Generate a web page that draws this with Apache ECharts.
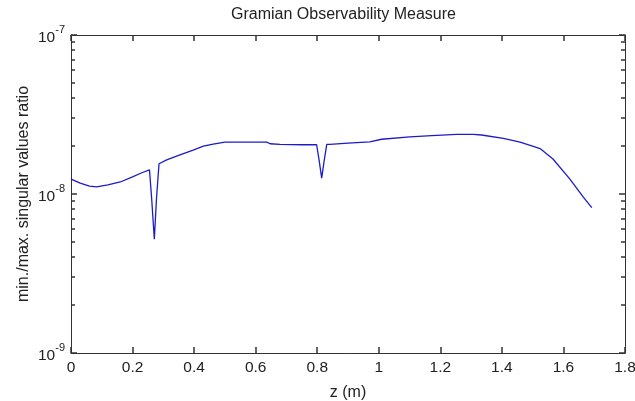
<!DOCTYPE html>
<html>
<head>
<meta charset="utf-8">
<script src="https://cdn.jsdelivr.net/npm/echarts@6/dist/echarts.min.js"></script>
<style>
  html, body { margin: 0; padding: 0; background: #fff; }
  #chart { width: 635px; height: 401px; }
</style>
</head>
<body>
<div id="chart"></div>
<script>
// Position along z (m)
const zValues = [
  0, 0.03, 0.06, 0.083, 0.12, 0.16, 0.2, 0.23, 0.255,
  0.262, 0.2707, 0.278, 0.286,
  0.311, 0.354, 0.397, 0.43, 0.462, 0.5, 0.55, 0.636, 0.647, 0.679, 0.75, 0.798,
  0.806, 0.8145, 0.823, 0.831,
  0.841, 0.9, 0.971, 1.009, 1.101, 1.172, 1.253, 1.307, 1.334, 1.405, 1.459,
  1.497, 1.524, 1.566, 1.621, 1.664, 1.692
];
// min./max. singular values ratio of the observability Gramian
const ratioValues = [
  1.24e-8, 1.17e-8, 1.12e-8, 1.11e-8, 1.14e-8, 1.19e-8, 1.28e-8, 1.36e-8, 1.42e-8,
  9.4e-9, 5.2e-9, 9.5e-9, 1.55e-8,
  1.64e-8, 1.76e-8, 1.89e-8, 2.0e-8, 2.06e-8, 2.12e-8, 2.12e-8, 2.12e-8, 2.07e-8, 2.05e-8, 2.04e-8, 2.04e-8,
  1.64e-8, 1.26e-8, 1.64e-8, 2.05e-8,
  2.05e-8, 2.09e-8, 2.13e-8, 2.21e-8, 2.29e-8, 2.33e-8, 2.37e-8, 2.37e-8, 2.35e-8, 2.24e-8, 2.12e-8,
  2.01e-8, 1.93e-8, 1.66e-8, 1.24e-8, 9.6e-9, 8.2e-9
];
// Axis ranges and decade labels
const xMin = 0, xMax = 1.8, xStep = 0.2;
const decades = [-9, -8, -7];
const minorMultipliers = [2, 3, 4, 5, 6, 7, 8, 9];

const axisColor = '#333';
const textColor = '#222';
const fontFamily = 'Liberation Sans, Arial, sans-serif';
const tickWidth = 1.5;

const chart = echarts.init(document.getElementById('chart'), null, { renderer: 'canvas' });

const series = [{
  type: 'line',
  data: zValues.map((z, i) => [z, ratioValues[i]]),
  showSymbol: false,
  symbol: 'none',
  lineStyle: { color: '#1c1cc8', width: 1.3 },
  animation: false
}];

// "10" with the exponent raised as a superscript
function expLabel(v) {
  return '{b|10}{s|' + Math.round(Math.log10(v)) + '}';
}

const frameAxis = {
  axisLine: { show: true, onZero: false, lineStyle: { color: axisColor, width: 1 } },
  axisTick: { show: true, inside: true, length: 6, lineStyle: { color: axisColor, width: tickWidth } },
  splitLine: { show: false }
};

const option = {
  animation: false,
  title: {
    text: 'Gramian Observability Measure',
    left: 231, top: 7, padding: 0,
    textStyle: { fontSize: 16, fontWeight: 'normal', color: textColor, fontFamily }
  },
  grid: { left: 71, right: 10, top: 35, bottom: 48, outerBoundsMode: 'none', containLabel: false },
  xAxis: [Object.assign({
    type: 'value', min: xMin, max: xMax, interval: xStep, position: 'bottom',
    name: 'z (m)', nameLocation: 'middle', nameGap: 32,
    nameTextStyle: { fontSize: 16, color: textColor, fontFamily },
    axisLabel: { margin: 7, fontSize: 15.5, color: textColor, fontFamily,
      formatter: v => String(Math.round(v * 10) / 10) }
  }, frameAxis), Object.assign({
    type: 'value', min: xMin, max: xMax, interval: xStep, position: 'top',
    axisLabel: { show: false }
  }, frameAxis)],
  yAxis: [Object.assign({
    type: 'log', logBase: 10, min: 1e-9, max: 1e-7, position: 'left',
    name: 'min./max. singular values ratio', nameLocation: 'middle', nameGap: 39,
    nameMoveOverlap: false,
    nameTextStyle: { fontSize: 16, color: textColor, fontFamily },
    axisLabel: {
      margin: 6, formatter: expLabel,
      rich: {
        b: { fontSize: 15.5, color: textColor, fontFamily, lineHeight: 22, verticalAlign: 'bottom', padding: [8, 0, 0, 0] },
        s: { fontSize: 11, color: textColor, fontFamily, lineHeight: 22, verticalAlign: 'top', padding: [0, 0, 10, 0] }
      }
    }
  }, frameAxis), Object.assign({
    type: 'log', logBase: 10, min: 1e-9, max: 1e-7, position: 'right',
    axisLabel: { show: false }
  }, frameAxis)],
  series
};

chart.setOption(option);

// Logarithmic minor ticks (2..9 within each decade) on both vertical edges
function drawMinorTicks() {
  const elements = [];
  const leftX = Math.round(chart.convertToPixel({ xAxisIndex: 0 }, xMin));
  const rightX = Math.round(chart.convertToPixel({ xAxisIndex: 0 }, xMax));
  decades.slice(0, -1).forEach(d => {
    minorMultipliers.forEach(m => {
      const y = Math.round(chart.convertToPixel({ yAxisIndex: 0 }, m * Math.pow(10, d)));
      elements.push({ type: 'line', silent: true,
        shape: { x1: leftX, y1: y, x2: leftX + 4, y2: y },
        style: { stroke: axisColor, lineWidth: tickWidth } });
      elements.push({ type: 'line', silent: true,
        shape: { x1: rightX - 4, y1: y, x2: rightX, y2: y },
        style: { stroke: axisColor, lineWidth: tickWidth } });
    });
  });
  chart.setOption({ graphic: { elements } });
}
drawMinorTicks();
</script>
</body>
</html>
